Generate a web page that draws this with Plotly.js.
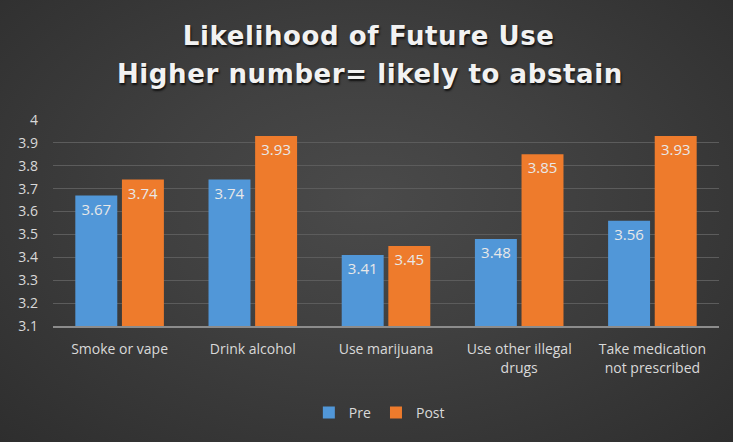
<!DOCTYPE html>
<html>
<head>
<meta charset="utf-8">
<script src="https://cdn.plot.ly/plotly-3.0.1.min.js"></script>
<style>
  html, body { margin: 0; padding: 0; }
  body { width: 733px; height: 442px; overflow: hidden;
         background: radial-gradient(ellipse at 50% 45%, #4a4a4a 0%, #404040 40%, #2e2e2e 100%); }
  #chart { width: 733px; height: 442px; }
  .gtitle, .annotation-text { letter-spacing: 0.6px; }
</style>
</head>
<body>
<div id="chart"></div>
<script>
const categories = ["Smoke or vape", "Drink alcohol", "Use marijuana", "Use other illegal<br>drugs", "Take medication<br>not prescribed"];
const preValues = [3.67, 3.74, 3.41, 3.48, 3.56];
const postValues = [3.74, 3.93, 3.45, 3.85, 3.93];
const seriesNames = ["Pre", "Post"];
const titleLine1 = "Likelihood of Future Use";
const titleLine2 = "Higher number= likely to abstain";

const textColor = "#d9d9d9";
const labelFont = { family: "Open Sans, sans-serif", size: 15, color: "#e8e8e8" };
const titleFont = { family: "DejaVu Sans, sans-serif", size: 26, color: "#f2f2f2", weight: "bold", shadow: "1px 2px 2px #111" };

const traces = [
  {
    type: "bar", name: seriesNames[0], x: categories, y: preValues,
    marker: { color: "#5197d8", line: { width: 0 } },
    text: preValues.map(v => v.toFixed(2)), textposition: "inside", insidetextanchor: "end",
    textfont: labelFont, hoverinfo: "x+y"
  },
  {
    type: "bar", name: seriesNames[1], x: categories, y: postValues,
    marker: { color: "#ee7b2c", line: { width: 0 } },
    text: postValues.map(v => v.toFixed(2)), textposition: "inside", insidetextanchor: "end",
    textfont: labelFont, hoverinfo: "x+y"
  }
];

const layout = {
  width: 733, height: 442,
  paper_bgcolor: "rgba(0,0,0,0)",
  plot_bgcolor: "rgba(0,0,0,0)",
  margin: { l: 53, r: 14, t: 120, b: 116 },
  barmode: "group",
  bargap: 0.30,
  bargroupgap: 0.10,
  title: {
    text: titleLine1,
    font: titleFont,
    x: 0.503, xref: "container", xanchor: "center",
    y: 1 - 36 / 442, yref: "container", yanchor: "middle"
  },
  annotations: [{
    text: titleLine2, showarrow: false,
    xref: "paper", yref: "paper", x: 0.476, y: (326 - 74) / 206,
    xanchor: "center", yanchor: "middle",
    font: titleFont
  }],
  xaxis: {
    type: "category",
    tickfont: { family: "Open Sans, sans-serif", size: 14, color: textColor },
    showgrid: false, zeroline: false,
    showline: true, linecolor: "#8c8c8c", linewidth: 1.5,
    ticks: "", ticklabelstandoff: 10,
    fixedrange: true
  },
  yaxis: {
    range: [3.1, 4], dtick: 0.1, tick0: 3.1,
    tickfont: { family: "Open Sans, sans-serif", size: 14, color: textColor },
    showgrid: true, gridcolor: "#5c5c5c", gridwidth: 1,
    zeroline: false, showline: false, ticks: "", ticklabelstandoff: 14,
    fixedrange: true
  },
  legend: {
    orientation: "h", x: 0.49, xanchor: "center", y: (326 - 413) / 206, yanchor: "middle",
    font: { family: "Open Sans, sans-serif", size: 14, color: textColor },
    bgcolor: "rgba(0,0,0,0)", itemwidth: 30, traceorder: "normal"
  },
  showlegend: true
};

Plotly.newPlot("chart", traces, layout, { displayModeBar: false, staticPlot: true });
</script>
</body>
</html>
